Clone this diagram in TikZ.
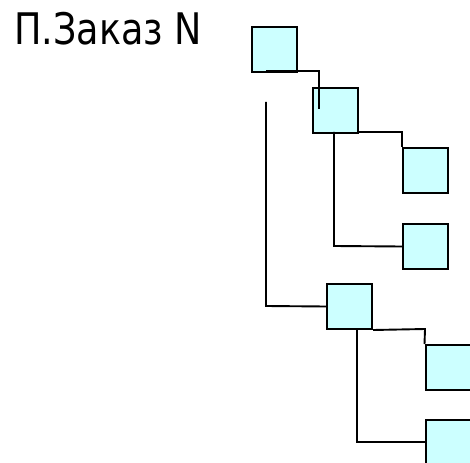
\documentclass[tikz,border=0pt]{standalone}
\usepackage{fontspec}
\setmainfont{DejaVu Sans}
\begin{document}
\begin{tikzpicture}[x=1pt,y=-1pt,
  box/.style={draw=black,line width=2pt,fill=boxcyan,minimum width=45pt,minimum height=45pt,inner sep=0pt,anchor=north west},
  link/.style={draw=black,line width=1.9pt}]
\definecolor{boxcyan}{HTML}{CCFFFF}
\useasboundingbox (0,0) rectangle (470,462);
\node[anchor=base west,inner sep=0pt,font=\fontsize{43.5}{50}\selectfont,xscale=0.84] (title) at (14,45) {П.Заказ N};
% coordinates of free ends
\coordinate (c1a) at (266,71);
\coordinate (c1b) at (319,71);
\coordinate (c1end) at (319,109);
\coordinate (vtop) at (266,102);
\coordinate (vbend) at (266,306);
\coordinate (c2a) at (334,132);
\coordinate (c2bend) at (334,246);
\coordinate (c2r) at (402,132);
\coordinate (c5a) at (357,329);
\coordinate (c5bend) at (357,442);
\coordinate (c5r) at (425,329);
% boxes
\path (251,26) node[box] (b1) {};
\path (312,87) node[box] (b2) {};
\path (402,147) node[box] (b3) {};
\path (402,223) node[box] (b4) {};
\path (326,283) node[box] (b5) {};
\path (424.5,344) node[box] (b6) {};
\path (424.5,419) node[box] (b7) {};
% connectors
\draw[link] (vtop) -- (vbend) -- (b5.west);
\draw[link] (b2.east |- c2r) -- (c2r) -- (b3.north west);
\draw[link] (c2a) -- (c2bend) -- (b4.west);
\draw[link] (b5.south east) -- (c5r) -- (b6.north west);
\draw[link] (c5a) -- (c5bend) -- (b7.west |- c5bend);
\draw[link] (c1a) -- (c1b) -- (c1end);
\end{tikzpicture}
\end{document}
